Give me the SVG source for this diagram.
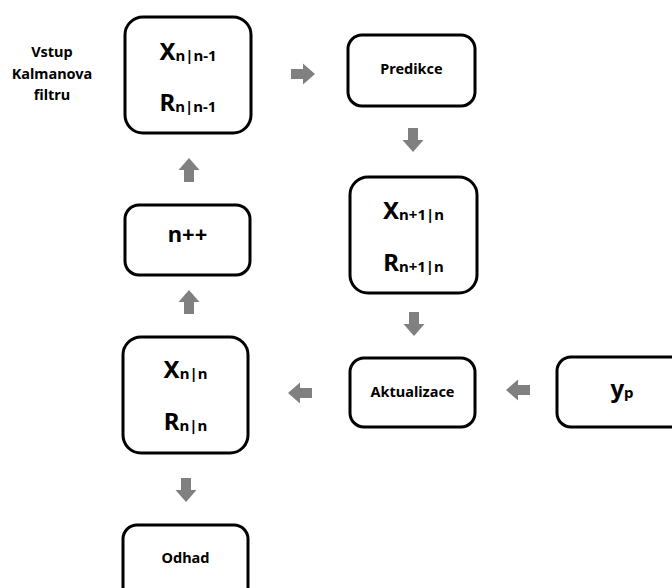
<svg xmlns="http://www.w3.org/2000/svg" width="672" height="588" viewBox="0 0 672 588">
<style>
.box{fill:#fff;stroke:#000;stroke-width:3}
text{font-family:"Noto Sans","Open Sans","Liberation Sans",sans-serif;font-weight:bold;fill:#000;text-anchor:middle}
.big{font-size:24px}
.sub{font-size:15px}
.lbl{font-size:14.5px}
.arr{fill:#808080}
</style>
<defs>
<path id="ar" d="M-12,-5 H0 V-10.5 L12,0 L0,10.5 V5 H-12 Z"/>
</defs>
<text class="lbl" x="52" y="57">Vstup</text>
<text class="lbl" x="52" y="79">Kalmanova</text>
<text class="lbl" x="52" y="100">filtru</text>
<g id="n-input">
<rect class="box" x="125" y="17" width="126" height="116" rx="18"/>
<text class="big" x="188" y="60">X<tspan class="sub" dy="1">n|n-1</tspan></text>
<text class="big" x="188" y="111">R<tspan class="sub" dy="1">n|n-1</tspan></text>
</g>
<g id="n-predikce">
<rect class="box" x="348" y="35" width="127" height="71" rx="14"/>
<text class="lbl" x="411.5" y="74">Predikce</text>
</g>
<g id="n-pred-state">
<rect class="box" x="350" y="177" width="127" height="116" rx="18"/>
<text class="big" x="413.5" y="219">X<tspan class="sub" dy="1">n+1|n</tspan></text>
<text class="big" x="413.5" y="271">R<tspan class="sub" dy="1">n+1|n</tspan></text>
</g>
<g id="n-aktualizace">
<rect class="box" x="350" y="358" width="125" height="69" rx="14"/>
<text class="lbl" x="412.5" y="397">Aktualizace</text>
</g>
<g id="n-yp">
<rect class="box" x="557" y="357" width="130" height="70" rx="14"/>
<text class="big" x="622" y="397">y<tspan class="sub" dy="1">p</tspan></text>
</g>
<g id="n-est-state">
<rect class="box" x="123" y="337" width="125" height="116" rx="18"/>
<text class="big" x="185.5" y="378">X<tspan class="sub" dy="1">n|n</tspan></text>
<text class="big" x="185.5" y="430">R<tspan class="sub" dy="1">n|n</tspan></text>
</g>
<g id="n-inc">
<rect class="box" x="125" y="205" width="125" height="70" rx="14"/>
<text class="big" x="187.5" y="242" style="font-size:22px">n++</text>
</g>
<g id="n-odhad">
<rect class="box" x="123" y="525" width="125" height="80" rx="14"/>
<text class="lbl" x="185.5" y="563">Odhad</text>
</g>
<g id="connectors" class="arr">
<use href="#ar" transform="translate(303,74)"/>
<use href="#ar" transform="translate(413,140) rotate(90)"/>
<use href="#ar" transform="translate(414,324) rotate(90)"/>
<use href="#ar" transform="translate(518,390) rotate(180)"/>
<use href="#ar" transform="translate(300,393) rotate(180)"/>
<use href="#ar" transform="translate(189,170) rotate(-90)"/>
<use href="#ar" transform="translate(189,302) rotate(-90)"/>
<use href="#ar" transform="translate(186,490) rotate(90)"/>
</g>
</svg>
